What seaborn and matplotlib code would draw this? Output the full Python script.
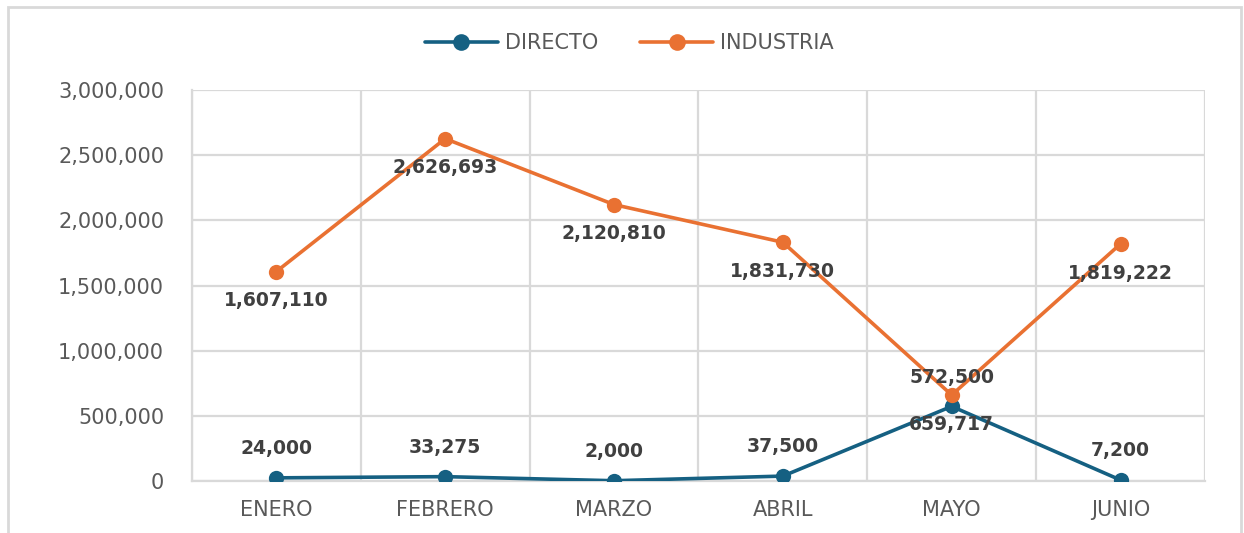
import pandas as pd
import numpy as np
import matplotlib.pyplot as plt
import seaborn as sns
from matplotlib.patches import Rectangle
from matplotlib.ticker import FuncFormatter, MultipleLocator

# datos
meses = ['ENERO', 'FEBRERO', 'MARZO', 'ABRIL', 'MAYO', 'JUNIO']
directo = [24000, 33275, 2000, 37500, 572500, 7200]
industria = [1607110, 2626693, 2120810, 1831730, 659717, 1819222]

df = pd.DataFrame({
    'mes': meses * 2,
    'valor': directo + industria,
    'serie': ['DIRECTO'] * 6 + ['INDUSTRIA'] * 6,
})

sns.set_theme(style='white')
plt.rcParams['font.family'] = ['DejaVu Sans']

fig = plt.figure(figsize=(12.44, 5.33), dpi=100)
ax = fig.add_axes([0.1543, 0.0976, 0.8143, 0.7335])

colores = {'DIRECTO': '#156082', 'INDUSTRIA': '#E97132'}
sns.lineplot(data=df, x='mes', y='valor', hue='serie', palette=colores,
             marker='o', markersize=11, markeredgewidth=0, linewidth=2.6,
             ax=ax, legend=True, zorder=3)

ax.set_xlim(-0.5, 5.5)
ax.set_ylim(0, 3000000)
ax.yaxis.set_major_locator(MultipleLocator(500000))
ax.yaxis.set_major_formatter(FuncFormatter(lambda v, p: f'{int(v):,}'))
ax.xaxis.set_minor_locator(MultipleLocator(1, offset=0.5))
ax.grid(True, axis='y', which='major', color='#D9D9D9', lw=1.6)
ax.grid(True, axis='x', which='minor', color='#D9D9D9', lw=1.6)
ax.grid(False, axis='x', which='major')
for s in ['top', 'right']:
    ax.spines[s].set_visible(False)
ax.spines['left'].set_color('#D9D9D9')
ax.spines['left'].set_linewidth(1.6)
ax.spines['bottom'].set_color('#D9D9D9')
ax.spines['bottom'].set_linewidth(1.6)
ax.set_xlabel('')
ax.set_ylabel('')
ax.tick_params(axis='both', length=0, labelsize=15, colors='#595959')
ax.tick_params(axis='y', pad=20)
ax.tick_params(axis='x', pad=14)

# etiquetas de datos
for i, v in enumerate(directo):
    ax.annotate(f'{v:,}', (i, v), xytext=(0, 21), textcoords='offset points',
                ha='center', va='center', fontsize=13.5, fontweight='bold',
                color='#404040', zorder=4)
for i, v in enumerate(industria):
    ax.annotate(f'{v:,}', (i, v), xytext=(0, -21), textcoords='offset points',
                ha='center', va='center', fontsize=13.5, fontweight='bold',
                color='#404040', zorder=4)

handles, labels = ax.get_legend_handles_labels()
ax.get_legend().remove()
for h in handles:
    h.set_markersize(12)
fig.legend(handles, labels, loc='center', bbox_to_anchor=(0.506, 0.919),
           ncol=2, frameon=False, fontsize=15, labelcolor='#595959',
           handlelength=3.5, columnspacing=2.0, handletextpad=0.35)

fig.patches.append(Rectangle((8 / 1244, -0.05), 1233 / 1244, 1.05 - 7 / 533,
                             transform=fig.transFigure, fill=False,
                             edgecolor='#D9D9D9', lw=2))

fig.savefig('out.png', dpi=100)
